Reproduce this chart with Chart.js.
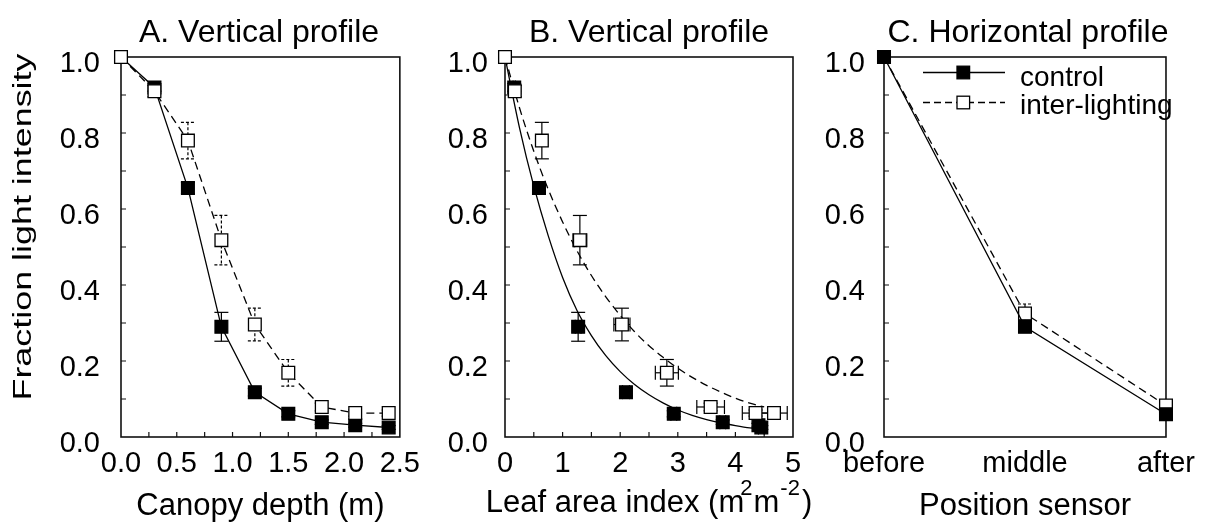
<!DOCTYPE html>
<html><head><meta charset="utf-8">
<script src="https://cdn.jsdelivr.net/npm/chart.js@4.4.1/dist/chart.umd.min.js"></script>
<style>
html,body{margin:0;padding:0;background:#fff;width:1205px;height:525px;overflow:hidden;}
.p{position:absolute;top:0;height:525px;}
</style></head><body>
<div class="p" style="left:0;width:430px"><canvas id="cA"></canvas></div>
<div class="p" style="left:430px;width:385px"><canvas id="cB"></canvas></div>
<div class="p" style="left:815px;width:390px"><canvas id="cC"></canvas></div>
<script>
// ---------- data ----------
const depth = [0, 0.3, 0.6, 0.9, 1.2, 1.5, 1.8, 2.1, 2.4];
const fracControl = [1.0, 0.92, 0.655, 0.29, 0.118, 0.061, 0.039, 0.031, 0.025];
const fracControlErr = [0, 0.01, 0.015, 0.038, 0.01, 0.008, 0.006, 0.005, 0.005];
const fracInter = [1.0, 0.91, 0.78, 0.518, 0.296, 0.169, 0.079, 0.063, 0.063];
const fracInterErr = [0, 0.015, 0.048, 0.065, 0.043, 0.035, 0.01, 0.008, 0.008];

const laiControl = [0, 0.16, 0.59, 1.27, 2.10, 2.93, 3.78, 4.40, 4.45];
const laiControlErr = [0, 0.02, 0.04, 0.05, 0.06, 0.05, 0.05, 0.05, 0.05];
const laiInter = [0, 0.17, 0.64, 1.30, 2.03, 2.81, 3.57, 4.35, 4.67];
const laiInterErr = [0, 0, 0, 0.12, 0.14, 0.2, 0.24, 0.23, 0.23];

const fitLai = [0, 0.25, 0.5, 0.75, 1.0, 1.25, 1.5, 1.75, 2.0, 2.25, 2.5, 2.75, 3.0, 3.25, 3.5, 3.75, 4.0, 4.25, 4.5];
const fitControl = [1.0, 0.815, 0.66, 0.53, 0.42, 0.333, 0.267, 0.214, 0.172, 0.138, 0.111, 0.089, 0.071, 0.057, 0.046, 0.037, 0.030, 0.024, 0.020];
const fitInter = [1.0, 0.867, 0.752, 0.652, 0.566, 0.49, 0.425, 0.369, 0.32, 0.277, 0.24, 0.209, 0.181, 0.157, 0.136, 0.118, 0.102, 0.089, 0.079];

const positions = ['before', 'middle', 'after'];
const horControl = [1.0, 0.29, 0.06];
const horControlErr = [0, 0.015, 0.012];
const horInter = [1.0, 0.325, 0.083];
const horInterErr = [0, 0.025, 0.012];

const titles = ['A. Vertical profile', 'B. Vertical profile', 'C. Horizontal profile'];
const yTitle = 'Fraction light intensity';
const xTitles = ['Canopy depth (m)', 'Leaf area index (m', 'Position sensor'];
const legendLabels = ['control', 'inter-lighting'];

// ---------- helpers ----------
const FONT = "'Liberation Sans', Arial, Helvetica, sans-serif";
const pts = (xs, ys) => xs.map((x, i) => ({x: x, y: ys[i]}));

function yScale(w, pad) {
  return {
    type: 'linear', min: 0, max: 1,
    afterFit: s => { s.width = w; },
    grid: {display: false, drawTicks: false, tickLength: 0},
    border: {display: false},
    ticks: {stepSize: 0.2, padding: pad, labelOffset: 7, color: '#000',
      font: {family: FONT, size: 29}, callback: v => v.toFixed(1), autoSkip: false}
  };
}
function xBase() {
  return {
    afterFit: s => { s.height = 88; },
    grid: {display: false, drawTicks: false, tickLength: 0, offset: false},
    border: {display: false},
  };
}

function framePlugin(xt, yt) {
  return {
    id: 'frame',
    beforeDatasetsDraw(chart) {
      const {ctx, chartArea: a, scales} = chart;
      ctx.save();
      ctx.strokeStyle = '#111'; ctx.lineWidth = 1.6;
      ctx.strokeRect(a.left, a.top, a.right - a.left, a.bottom - a.top);
      ctx.lineWidth = 1.2; ctx.beginPath();
      yt.forEach(v => { const py = scales.y.getPixelForValue(v); ctx.moveTo(a.left, py); ctx.lineTo(a.left + 5, py); });
      xt.forEach(v => { const px = scales.x.getPixelForValue(v); ctx.moveTo(px, a.bottom); ctx.lineTo(px, a.bottom - 5); });
      ctx.stroke(); ctx.restore();
    }
  };
}
const yTickPos = [0.1, 0.2, 0.3, 0.4, 0.5, 0.6, 0.7, 0.8, 0.9];

const errPlugin = {
  id: 'errbars',
  beforeDatasetsDraw(chart) {
    const {ctx, scales} = chart;
    chart.data.datasets.forEach((ds, di) => {
      if (!ds.errY && !ds.errX) return;
      const meta = chart.getDatasetMeta(di);
      ctx.save();
      ctx.strokeStyle = '#000'; ctx.lineWidth = 1.2;
      ctx.setLineDash(ds.errDash || []);
      const seg = (x1, y1, x2, y2) => { ctx.beginPath(); ctx.moveTo(x1, y1); ctx.lineTo(x2, y2); ctx.stroke(); };
      meta.data.forEach((el, i) => {
        const raw = ds.data[i];
        const yv = typeof raw === 'object' ? raw.y : raw;
        const px = el.x, py = el.y;
        if (ds.errY && ds.errY[i] > 0) {
          const t = scales.y.getPixelForValue(yv + ds.errY[i]);
          const b = scales.y.getPixelForValue(yv - ds.errY[i]);
          seg(px, t, px, b); seg(px - 7, t, px + 7, t); seg(px - 7, b, px + 7, b);
        }
        if (ds.errX && ds.errX[i] > 0) {
          const l = scales.x.getPixelForValue(raw.x - ds.errX[i]);
          const r = scales.x.getPixelForValue(raw.x + ds.errX[i]);
          seg(l, py, r, py); seg(l, py - 7, l, py + 7); seg(r, py - 7, r, py + 7);
        }
      });
      ctx.restore();
    });
  }
};

function titlePlugin(text, cx) {
  return {
    id: 'ptitle',
    afterDraw(chart) {
      const ctx = chart.ctx; ctx.save();
      ctx.fillStyle = '#000'; ctx.font = '32px ' + FONT;
      ctx.textAlign = 'center'; ctx.textBaseline = 'alphabetic';
      ctx.fillText(text, cx, 42); ctx.restore();
    }
  };
}

const yTitlePlugin = {
  id: 'ytitle',
  afterDraw(chart) {
    const ctx = chart.ctx; ctx.save();
    ctx.translate(24, 227); ctx.rotate(-Math.PI / 2); ctx.scale(1.38, 1);
    ctx.fillStyle = '#000'; ctx.font = '26px ' + FONT;
    ctx.textAlign = 'center'; ctx.textBaseline = 'middle';
    ctx.fillText(yTitle, 0, 0); ctx.restore();
  }
};

const laiTitlePlugin = {
  id: 'laititle',
  afterDraw(chart) {
    const ctx = chart.ctx; ctx.save(); ctx.fillStyle = '#000';
    const big = '31px ' + FONT, small = '22px ' + FONT;
    const parts = [[xTitles[1], big, 0, 0], ['2', small, -17, -4], ['m', big, 0, 1], ['-2', small, -17, 1], [')', big, 0, 2]];
    let total = 0;
    parts.forEach(p => { ctx.font = p[1]; p.w = ctx.measureText(p[0]).width; total += p.w + p[3]; });
    const cx = (chart.chartArea.left + chart.chartArea.right) / 2;
    let x = cx - total / 2; const base = 512;
    ctx.textAlign = 'left'; ctx.textBaseline = 'alphabetic';
    parts.forEach(p => { x += p[3]; ctx.font = p[1]; ctx.fillText(p[0], x, base + p[2]); x += p.w; });
    ctx.restore();
  }
};

const legendPlugin = {
  id: 'hlegend',
  afterDraw(chart) {
    const ctx = chart.ctx; ctx.save();
    const rows = [{y: 72.5, dash: [], fill: '#000', text: legendLabels[0], base: 85.5},
                  {y: 102.5, dash: [7, 4], fill: '#fff', text: legendLabels[1], base: 113.5}];
    rows.forEach(r => {
      ctx.strokeStyle = '#000'; ctx.lineWidth = 1.3; ctx.setLineDash(r.dash);
      ctx.beginPath(); ctx.moveTo(108, r.y); ctx.lineTo(190, r.y); ctx.stroke();
      ctx.setLineDash([]);
      ctx.fillStyle = r.fill; ctx.fillRect(142, r.y - 6.3, 12.6, 12.6);
      ctx.strokeRect(142, r.y - 6.3, 12.6, 12.6);
      ctx.fillStyle = '#000'; ctx.font = '28px ' + FONT; ctx.textAlign = 'left'; ctx.textBaseline = 'alphabetic';
      ctx.fillText(r.text, 205, r.base);
    });
    ctx.restore();
  }
};

const common = {
  responsive: true, maintainAspectRatio: false, animation: false, devicePixelRatio: 1,
  plugins: {legend: {display: false}, tooltip: {enabled: false}, title: {display: false}},
};
const openPt = {pointStyle: 'rect', pointRadius: 9, pointBackgroundColor: '#fff', pointBorderColor: '#000', pointBorderWidth: 1.3};
const filledPt = {pointStyle: 'rect', pointRadius: 9, pointBackgroundColor: '#000', pointBorderColor: '#000', pointBorderWidth: 1.3};

// ---------- Panel A ----------
new Chart(document.getElementById('cA'), {
  type: 'scatter',
  data: {datasets: [
    Object.assign({label: legendLabels[1], data: pts(depth, fracInter), errY: fracInterErr, errDash: [3, 2],
      showLine: true, borderColor: '#000', borderWidth: 1.3, borderDash: [8, 5], clip: false}, openPt),
    Object.assign({label: legendLabels[0], data: pts(depth, fracControl), errY: fracControlErr,
      showLine: true, borderColor: '#000', borderWidth: 1.3, clip: false}, filledPt)
  ]},
  options: Object.assign({}, common, {
    layout: {padding: {left: 0, right: 23, top: 57, bottom: 0}, autoPadding: false},
    scales: {
      x: Object.assign(xBase(), {type: 'linear', position: 'bottom', min: 0, max: 2.5,
        ticks: {stepSize: 0.5, padding: 10, color: '#000', font: {family: FONT, size: 29}, callback: v => v.toFixed(1), autoSkip: false, maxRotation: 0, minRotation: 0},
        title: {display: true, text: xTitles[0], color: '#000', font: {family: FONT, size: 31}, padding: {top: 0, bottom: 0}}}),
      y: yScale(121, 21)
    }
  }),
  plugins: [framePlugin([0.25, 0.5, 0.75, 1.0, 1.25, 1.5, 1.75, 2.0, 2.25], yTickPos), errPlugin, titlePlugin(titles[0], 259), yTitlePlugin]
});

// ---------- Panel B ----------
new Chart(document.getElementById('cB'), {
  type: 'scatter',
  data: {datasets: [
    Object.assign({label: legendLabels[1], data: pts(laiInter, fracInter), errY: fracInterErr, errX: laiInterErr,
      showLine: false, clip: false, order: 0}, openPt),
    Object.assign({label: legendLabels[0], data: pts(laiControl, fracControl), errY: fracControlErr, errX: laiControlErr,
      showLine: false, clip: false, order: 1}, filledPt),
    {label: 'fit inter-lighting', data: pts(fitLai, fitInter), showLine: true, pointRadius: 0, borderColor: '#000',
      borderWidth: 1.3, borderDash: [8, 5], cubicInterpolationMode: 'monotone', order: 2},
    {label: 'fit control', data: pts(fitLai, fitControl), showLine: true, pointRadius: 0, borderColor: '#000',
      borderWidth: 1.3, cubicInterpolationMode: 'monotone', order: 3}
  ]},
  options: Object.assign({}, common, {
    layout: {padding: {left: 0, right: 22, top: 57, bottom: 0}, autoPadding: false},
    scales: {
      x: Object.assign(xBase(), {type: 'linear', position: 'bottom', min: 0, max: 5,
        ticks: {stepSize: 1, padding: 10, color: '#000', font: {family: FONT, size: 29}, callback: v => String(v), autoSkip: false, maxRotation: 0, minRotation: 0}}),
      y: yScale(75, 17)
    }
  }),
  plugins: [framePlugin([0.5, 1, 1.5, 2, 2.5, 3, 3.5, 4, 4.5], yTickPos), errPlugin, titlePlugin(titles[1], 219), laiTitlePlugin]
});

// ---------- Panel C ----------
new Chart(document.getElementById('cC'), {
  type: 'line',
  data: {labels: positions, datasets: [
    Object.assign({label: legendLabels[0], data: horControl, errY: horControlErr, borderColor: '#000', borderWidth: 1.3, clip: false, order: 0}, filledPt),
    Object.assign({label: legendLabels[1], data: horInter, errY: horInterErr, errDash: [3, 2], borderColor: '#000', borderWidth: 1.3, borderDash: [8, 5], clip: false, order: 1}, openPt)
  ]},
  options: Object.assign({}, common, {
    layout: {padding: {left: 0, right: 33, top: 57, bottom: 0}, autoPadding: false},
    scales: {
      x: Object.assign(xBase(), {type: 'category', offset: false,
        ticks: {padding: 10, color: '#000', font: {family: FONT, size: 29}, autoSkip: false, maxRotation: 0, minRotation: 0},
        title: {display: true, text: xTitles[2], color: '#000', font: {family: FONT, size: 31}, padding: {top: 0, bottom: 0}}}),
      y: yScale(69, 19)
    }
  }),
  plugins: [framePlugin([], yTickPos), errPlugin, titlePlugin(titles[2], 213), legendPlugin]
});
</script>
</body></html>
